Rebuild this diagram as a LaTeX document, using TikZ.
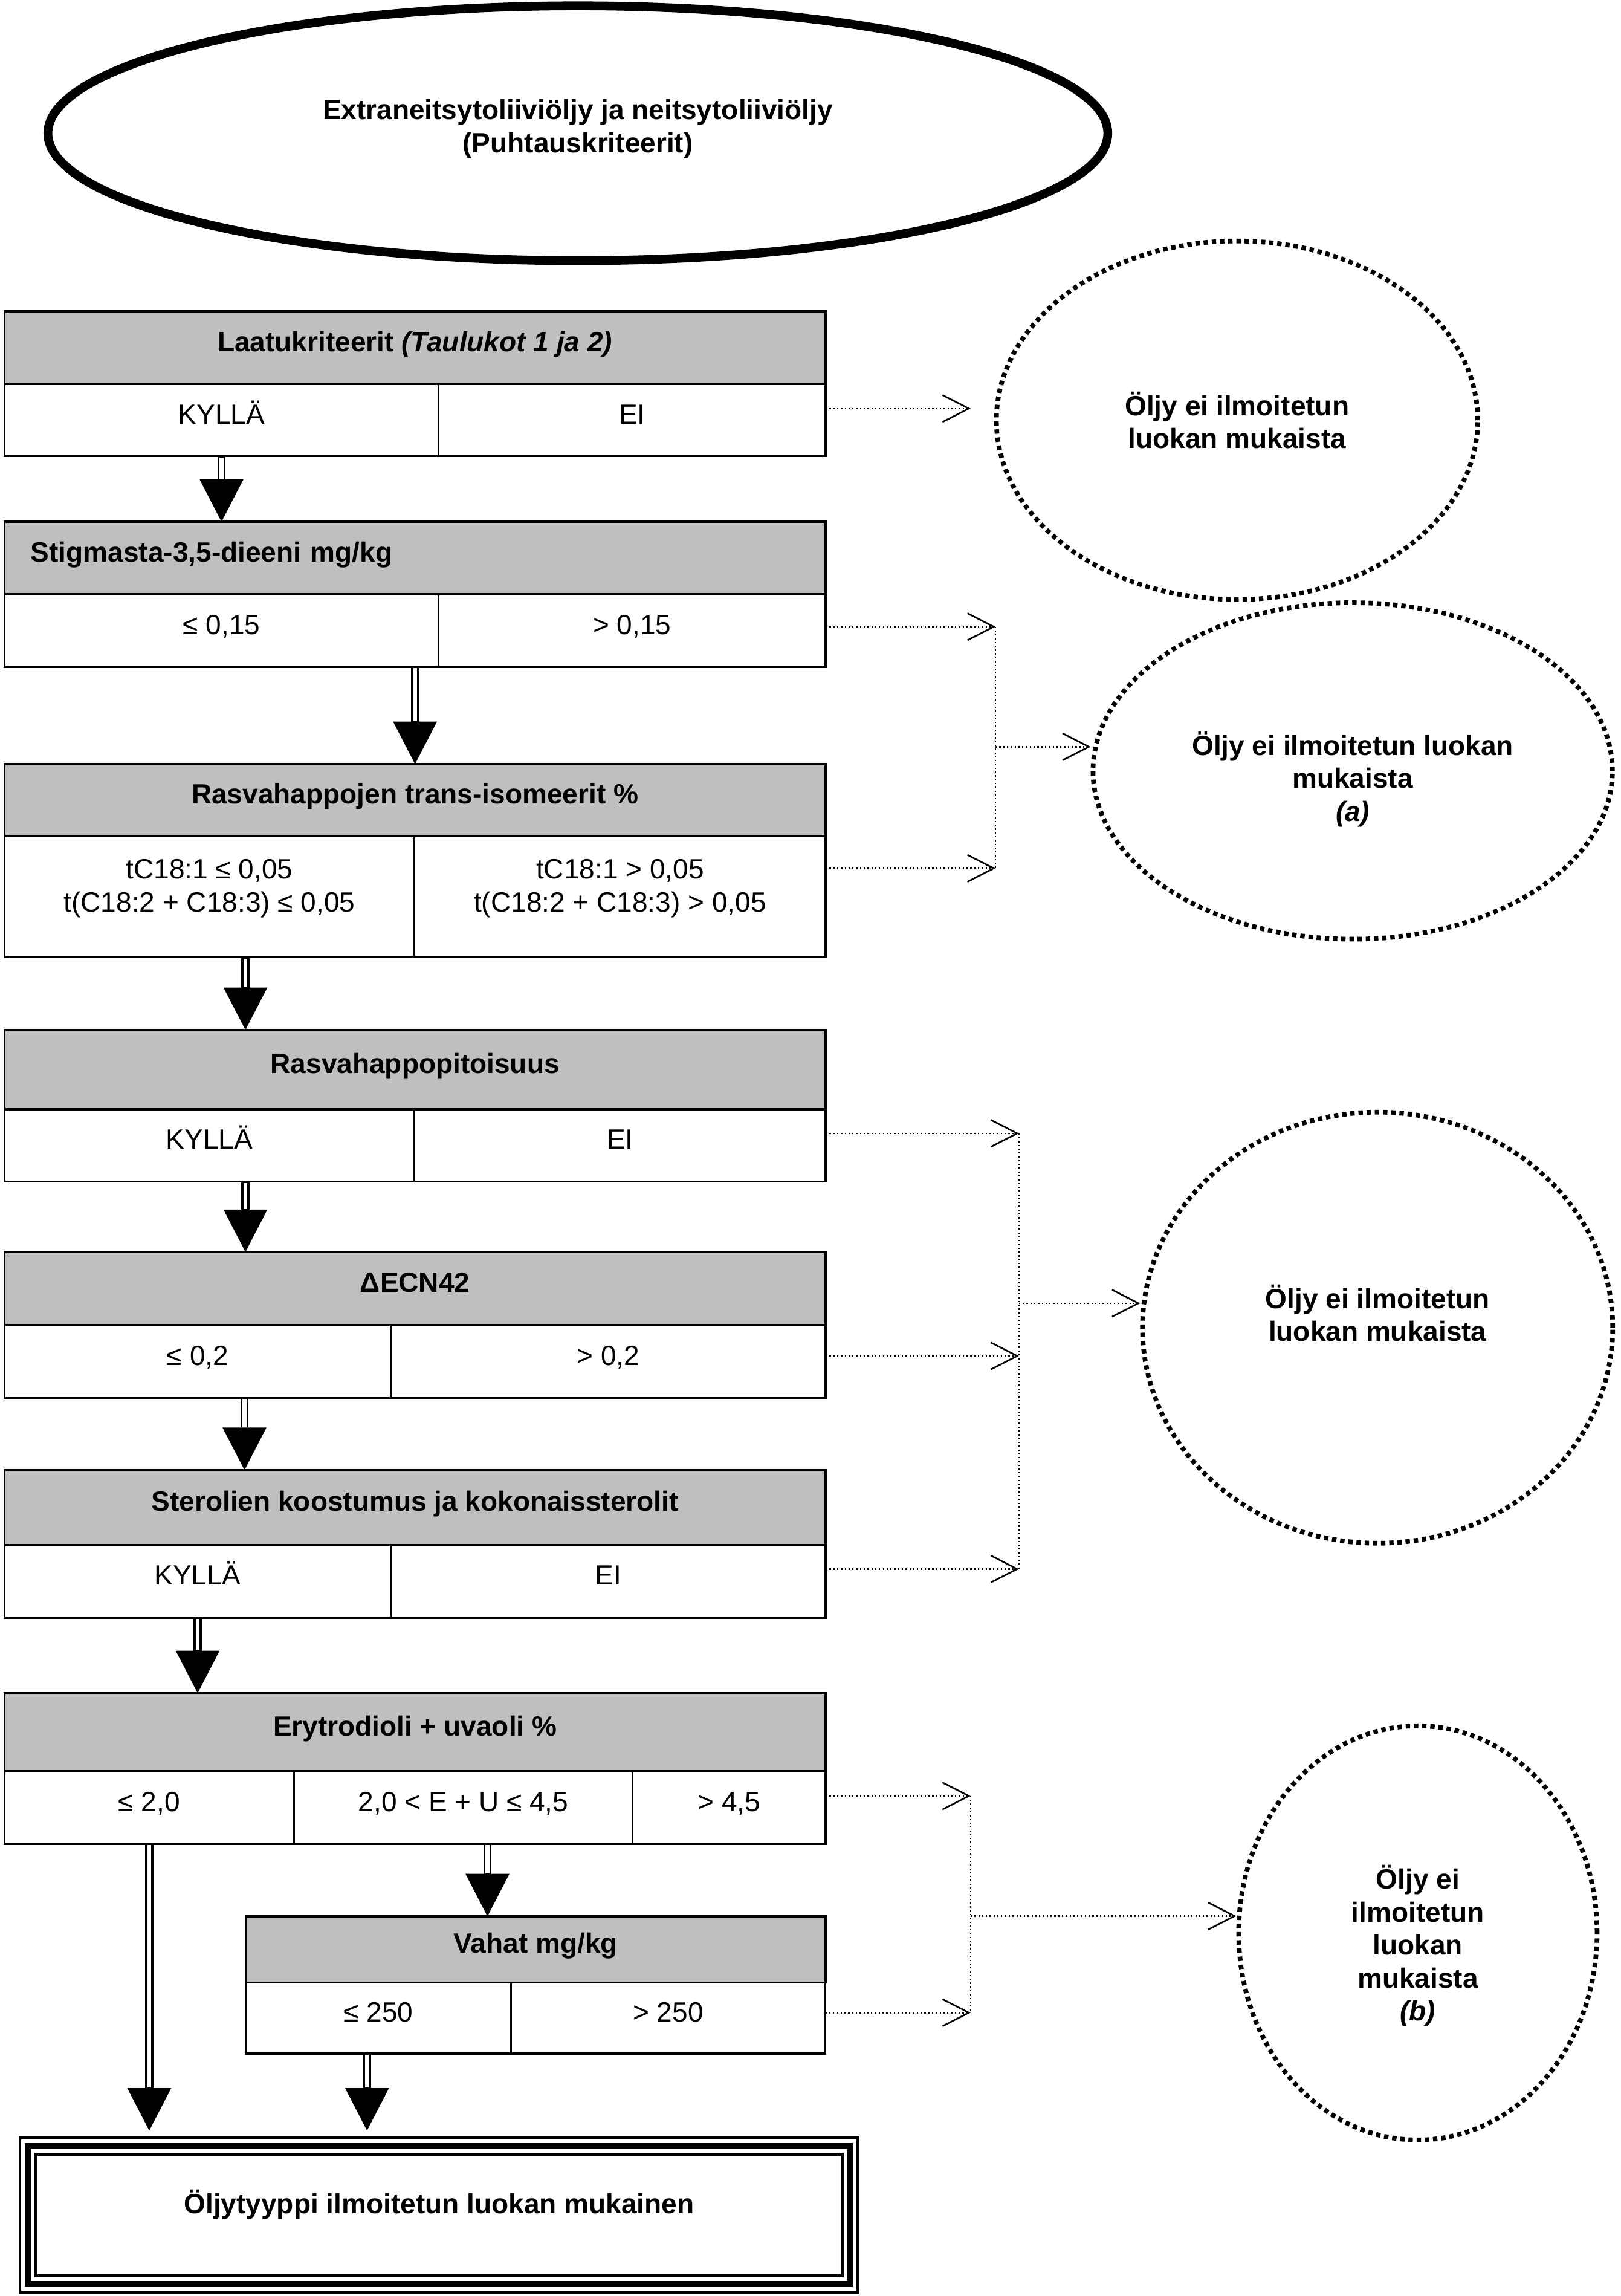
\documentclass[tikz,border=0pt]{standalone}
\usepackage{fontspec}
\setmainfont{Liberation Sans}
\usepackage{tikz}
\usetikzlibrary{shapes.geometric,arrows.meta,calc}
\newcommand{\diagfont}{\fontsize{19}{22.5}\selectfont}

\begin{document}
\begin{tikzpicture}[x=1pt, y=-1pt, font=\diagfont,
    hdr/.style={draw, line width=1.4pt, fill=black!25, font=\diagfont\bfseries,
        anchor=north west, minimum width=561pt, inner sep=0pt, outer sep=0pt,
        text height=13pt, text depth=8pt},
    cel/.style={draw, line width=1.4pt, anchor=north west, inner sep=0pt,
        outer sep=0pt, minimum height=49.4pt, text height=13pt, text depth=8pt},
    startell/.style={ellipse, draw, line width=6pt, inner sep=0pt, align=center,
        font=\diagfont\bfseries},
    rejell/.style={ellipse, draw, line width=3.2pt, dash pattern=on 3pt off 2.6pt,
        inner sep=0pt, align=center, font=\diagfont\bfseries},
    down/.style={line width=5.5pt, -{Triangle[length=29pt, width=30pt, line width=0pt]},
        postaction={draw=white, line width=2.5pt, -, shorten >=29.5pt, shorten <=1pt}},
    rej/.style={line width=1pt, dash pattern=on 0.9pt off 1.7pt,
        -{Straight Barb[length=18pt, width=18.4pt, line width=1.1pt]}},
    bus/.style={line width=0.8pt, dash pattern=on 0.9pt off 1.7pt}
]
    \useasboundingbox (0,0) rectangle (1107,1568);

    \node[startell, minimum width=724pt, minimum height=174pt, text depth=10pt] (start) at (394.7,91)
        {Extraneitsytoliiviöljy ja neitsytoliiviöljy\\(Puhtauskriteerit)};

    \node[hdr, minimum height=49.7pt] (h1) at (3,212.6) {Laatukriteerit \textit{(Taulukot 1 ja 2)}};
    \node[cel, minimum width=296.6pt, minimum height=49.3pt] (y1) at (3,262.3) {KYLLÄ};
    \node[cel, minimum width=264.4pt, minimum height=49.3pt] (n1) at (299.6,262.3) {EI};

    \node[hdr, minimum height=49.6pt, text width=525pt, align=left, inner xsep=18pt] (h2) at (3,356.3) {Stigmasta-3,5-dieeni mg/kg};
    \node[cel, minimum width=296.6pt] (y2) at (3,405.9) {≤ 0,15};
    \node[cel, minimum width=264.4pt] (n2) at (299.6,405.9) {> 0,15};

    \node[hdr, minimum height=49.2pt] (h3) at (3,521.8) {Rasvahappojen trans-isomeerit \%};
    \node[cel, minimum width=280.1pt, minimum height=82.6pt, align=center, text height=, text depth=15pt] (y3) at (3,571)
        {tC18:1 ≤ 0,05\\t(C18:2 + C18:3) ≤ 0,05};
    \node[cel, minimum width=280.9pt, minimum height=82.6pt, align=center, text height=, text depth=15pt] (n3) at (283.1,571)
        {tC18:1 > 0,05\\t(C18:2 + C18:3) > 0,05};

    \node[hdr, minimum height=54.2pt] (h4) at (3,703.4) {Rasvahappopitoisuus};
    \node[cel, minimum width=280.1pt] (y4) at (3,757.6) {KYLLÄ};
    \node[cel, minimum width=280.9pt] (n4) at (283.1,757.6) {EI};

    \node[hdr, minimum height=49.8pt] (h5) at (3,855) {ΔECN42};
    \node[cel, minimum width=264pt, minimum height=50pt] (y5) at (3,904.8) {≤ 0,2};
    \node[cel, minimum width=297pt, minimum height=50pt] (n5) at (267,904.8) {> 0,2};

    \node[hdr, minimum height=51pt] (h6) at (3,1003.9) {Sterolien koostumus ja kokonaissterolit};
    \node[cel, minimum width=264pt, minimum height=49.8pt] (y6) at (3,1054.9) {KYLLÄ};
    \node[cel, minimum width=297pt, minimum height=49.8pt] (n6) at (267,1054.9) {EI};

    \node[hdr, minimum height=53.4pt] (h7) at (3,1156.3) {Erytrodioli + uvaoli \%};
    \node[cel, minimum width=197.9pt] (y7) at (3,1209.7) {≤ 2,0};
    \node[cel, minimum width=231.1pt] (m7) at (200.9,1209.7) {2,0 < E + U ≤ 4,5};
    \node[cel, minimum width=132pt] (n7) at (432,1209.7) {> 4,5};

    \node[hdr, minimum width=396.2pt, minimum height=45.3pt] (h8) at (167.8,1308.7) {Vahat mg/kg};
    \node[cel, minimum width=181.2pt, minimum height=48.4pt] (y8) at (167.8,1354) {≤ 250};
    \node[cel, minimum width=214.8pt, minimum height=48.4pt] (n8) at (349,1354) {> 250};

    \node[draw, line width=2pt, minimum width=572.6pt, minimum height=105.3pt, inner sep=0pt,
        outer sep=0pt, font=\diagfont\bfseries, text height=13pt, text depth=15pt] (final)
        at (299.9,1512.65) {Öljytyyppi ilmoitetun luokan mukainen};
    \draw[line width=4pt] ([xshift=5.5pt,yshift=-5.5pt]final.north west) rectangle ([xshift=-5.5pt,yshift=5.5pt]final.south east);
    \draw[line width=2pt] ([xshift=11pt,yshift=-11pt]final.north west) rectangle ([xshift=-11pt,yshift=11pt]final.south east);

    \node[rejell, minimum width=328.8pt, minimum height=244.8pt] (okA) at (845,287)
        {Öljy ei ilmoitetun\\luokan mukaista};
    \node[rejell, minimum width=354.8pt, minimum height=229.8pt, text height=72.6pt, text depth=4pt] (okB) at (924,526.5)
        {Öljy ei ilmoitetun luokan\\mukaista\\\textit{(a)}};
    \node[rejell, minimum width=321.2pt, minimum height=294.4pt, text depth=20pt] (okC) at (941,906.7)
        {Öljy ei ilmoitetun\\luokan mukaista};
    \node[rejell, minimum width=244.8pt, minimum height=282.8pt, text height=124pt, text depth=4pt] (okD) at (968.5,1320)
        {Öljy ei\\ilmoitetun\\luokan\\mukaista\\\textit{(b)}};

    \draw[down] (y1.south) -- (y1.south |- h2.north);
    \draw[down] (h3.north |- y2.south) -- (h3.north);
    \draw[down] ([xshift=24.6pt]y3.south) coordinate (s3) -- (s3 |- h4.north);
    \draw[down] ([xshift=24.6pt]y4.south) coordinate (s4) -- (s4 |- h5.north);
    \draw[down] ([xshift=32pt]y5.south) coordinate (s5) -- (s5 |- h6.north);
    \draw[down] (y6.south) -- (y6.south |- h7.north);
    \draw[down] ([xshift=16.5pt]m7.south) coordinate (s7) -- (s7 |- h8.north);
    \draw[down] (y7.south) -- ($(y7.south |- final.north)+(0,-5)$);
    \draw[down] ([xshift=-7.7pt]y8.south) coordinate (s8) -- ($(s8 |- final.north)+(0,-5)$);

    \coordinate (e1) at (663,279);
    \draw[rej] (n1.east |- e1) -- (e1);

    \coordinate (b2) at (680,428);
    \coordinate (b3) at (680,593);
    \coordinate (mb) at (680,510);
    \draw[rej] (n2.east |- b2) -- (b2);
    \draw[rej] (n3.east |- b3) -- (b3);
    \draw[bus] (b2) -- (b3);
    \draw[rej] (mb) -- (mb -| okB.west);

    \coordinate (c4) at (696,774);
    \coordinate (c5) at (696,926);
    \coordinate (c6) at (696,1071.5);
    \coordinate (mc) at (696,890);
    \draw[rej] (n4.east |- c4) -- (c4);
    \draw[rej] (n5.east |- c5) -- (c5);
    \draw[rej] (n6.east |- c6) -- (c6);
    \draw[bus] (c4) -- (c6);
    \draw[rej] (mc) -- (mc -| okC.west);

    \coordinate (d7) at (663,1226.5);
    \coordinate (d8) at (663,1374.5);
    \coordinate (md) at (663,1308.5);
    \draw[rej] (n7.east |- d7) -- (d7);
    \draw[rej] (n8.east |- d8) -- (d8);
    \draw[bus] (d7) -- (d8);
    \draw[rej] (md) -- (md -| okD.west);
\end{tikzpicture}
\end{document}
